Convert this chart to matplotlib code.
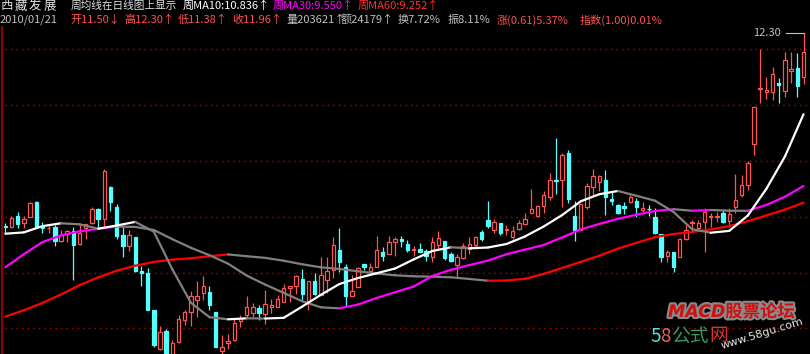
import numpy as np
import matplotlib
matplotlib.use("Agg")
import matplotlib.pyplot as plt
import matplotlib.patheffects as pe

# daily candles (price)
opens = [8.83, 8.81, 9.01, 8.88, 9.00, 9.27, 8.83, 8.79, 8.81, 8.57,
         8.69, 8.74, 8.51, 8.79, 8.88, 9.13, 8.95, 9.53, 9.17, 8.67,
         8.48, 8.63, 8.03, 8.00, 7.33, 6.63, 6.95, 6.52, 6.76, 7.15,
         7.30, 7.51, 7.63, 7.65, 7.29, 6.59, 6.73, 6.79, 7.13, 7.23,
         7.28, 7.36, 7.26, 7.39, 7.39, 7.48, 7.72, 7.76, 7.88, 7.49,
         7.85, 7.60, 7.87, 8.05, 8.40, 8.10, 7.58, 7.74, 8.15, 8.03,
         8.09, 8.36, 8.34, 8.55, 8.60, 8.51, 8.40, 8.42, 8.39, 8.28,
         8.49, 8.57, 8.34, 8.13, 8.26, 8.42, 8.49, 8.72, 8.94, 8.76,
         8.88, 8.77, 8.64, 8.78, 8.87, 9.07, 9.01, 9.19, 9.36, 9.66,
         9.66, 10.15, 9.01, 8.76, 9.17, 9.54, 9.62, 9.65, 9.32, 9.21,
         9.19, 9.27, 9.29, 9.12, 9.14, 9.00, 8.69, 8.30, 8.36, 8.27,
         8.60, 8.89, 8.79, 8.91, 9.00, 9.00, 9.07, 8.93, 9.18, 9.38,
         9.57, 10.30, 11.29, 11.23, 11.24, 11.40, 11.26, 11.62, 11.66, 11.50]
highs = [8.88, 9.01, 9.08, 9.01, 9.27, 9.28, 8.91, 8.87, 8.85, 8.76,
         8.76, 8.81, 8.87, 8.87, 9.18, 9.16, 9.85, 9.55, 9.23, 8.82,
         8.76, 8.64, 8.12, 8.08, 7.33, 7.04, 6.98, 6.79, 7.23, 7.33,
         7.67, 7.85, 7.94, 7.75, 7.29, 6.88, 6.90, 7.18, 7.23, 7.57,
         7.46, 7.42, 7.69, 7.53, 7.60, 7.79, 7.76, 7.96, 8.06, 7.85,
         7.99, 8.27, 8.27, 8.64, 8.80, 8.15, 7.96, 8.10, 8.15, 8.17,
         8.65, 8.45, 8.65, 8.63, 8.65, 8.58, 8.48, 8.52, 8.42, 8.63,
         8.75, 8.57, 8.37, 8.34, 8.53, 8.63, 8.65, 8.76, 9.28, 8.96,
         8.88, 8.86, 8.83, 8.94, 9.06, 9.50, 9.21, 9.46, 9.79, 10.41,
         10.14, 10.20, 9.28, 9.23, 9.60, 9.85, 9.75, 9.84, 9.45, 9.22,
         9.27, 9.39, 9.33, 9.27, 9.21, 9.15, 8.69, 8.40, 8.37, 8.61,
         8.85, 8.94, 8.94, 9.16, 9.07, 9.09, 9.13, 9.15, 9.77, 9.75,
         9.99, 10.96, 12.00, 11.50, 11.69, 11.48, 11.96, 11.96, 11.93, 12.30]
lows = [8.71, 8.79, 8.80, 8.79, 9.00, 8.80, 8.70, 8.70, 8.48, 8.55,
        8.55, 7.87, 8.49, 8.60, 8.87, 8.79, 8.83, 9.11, 8.60, 8.28,
        8.39, 8.01, 7.76, 7.33, 6.67, 6.61, 6.50, 6.48, 6.74, 7.06,
        7.05, 7.21, 7.51, 7.33, 6.67, 6.53, 6.63, 6.77, 7.03, 7.21,
        7.20, 7.15, 7.08, 7.28, 7.39, 7.48, 7.48, 7.62, 7.50, 7.33,
        7.60, 7.60, 7.63, 7.90, 8.01, 7.40, 7.57, 7.74, 8.05, 8.01,
        8.09, 8.21, 8.34, 8.30, 8.45, 8.36, 8.30, 8.37, 8.21, 8.19,
        8.42, 8.22, 8.19, 7.92, 8.24, 8.34, 8.42, 8.57, 8.80, 8.71,
        8.67, 8.67, 8.60, 8.76, 8.85, 9.07, 9.00, 9.06, 9.30, 9.41,
        9.17, 9.24, 8.57, 8.76, 9.13, 9.37, 9.46, 9.03, 9.21, 9.05,
        9.04, 9.24, 8.99, 9.09, 9.01, 8.69, 8.19, 8.19, 8.01, 8.27,
        8.58, 8.73, 8.77, 8.36, 8.82, 8.91, 8.89, 8.82, 9.06, 9.36,
        9.47, 10.11, 11.04, 11.11, 11.10, 11.03, 11.15, 11.39, 11.15, 11.38]
closes = [8.81, 8.97, 8.87, 8.96, 9.25, 8.81, 8.79, 8.80, 8.57, 8.67,
          8.75, 8.49, 8.70, 8.87, 9.13, 8.96, 9.82, 9.27, 8.65, 8.48,
          8.67, 8.03, 8.00, 7.33, 6.70, 6.93, 6.55, 6.74, 7.17, 7.29,
          7.58, 7.58, 7.76, 7.41, 6.67, 6.66, 6.77, 7.09, 7.18, 7.38,
          7.38, 7.27, 7.43, 7.41, 7.53, 7.72, 7.75, 7.93, 7.62, 7.85,
          7.62, 7.96, 8.03, 8.49, 8.18, 7.57, 7.67, 8.08, 8.09, 8.09,
          8.40, 8.30, 8.54, 8.60, 8.57, 8.40, 8.42, 8.37, 8.30, 8.54,
          8.61, 8.26, 8.21, 8.28, 8.48, 8.51, 8.64, 8.60, 8.83, 8.90,
          8.71, 8.78, 8.74, 8.88, 8.95, 9.14, 9.20, 9.39, 9.66, 9.64,
          10.11, 9.31, 8.76, 9.23, 9.55, 9.73, 9.73, 9.36, 9.29, 9.06,
          9.15, 9.35, 9.18, 9.16, 9.13, 8.71, 8.27, 8.37, 8.09, 8.60,
          8.76, 8.91, 8.88, 9.09, 9.02, 9.02, 8.91, 9.05, 9.30, 9.57,
          9.97, 10.96, 11.31, 11.27, 11.56, 11.36, 11.81, 11.65, 11.35, 11.96]

# weekly moving averages, read every 3rd trading day
ma_idx = list(range(0, 130, 3))
ma10 = [8.695, 8.719, 8.831, 8.882, 8.864, 8.785, 8.842, 8.907, 8.733, 8.057,
        7.457, 7.199, 7.161, 7.179, 7.175, 7.188, 7.391, 7.600, 7.794, 7.901,
        7.986, 8.072, 8.235, 8.385, 8.452, 8.434, 8.448, 8.511, 8.647, 8.824,
        9.030, 9.276, 9.403, 9.461, 9.375, 9.287, 9.084, 8.776, 8.713, 8.746,
        9.021, 9.500, 10.079, 10.836]
ma30 = [8.093, 8.328, 8.545, 8.665, 8.738, 8.781, 8.824, 8.817, 8.762, 8.597,
        8.443, 8.310, 8.158, 7.946, 7.783, 7.634, 7.484, 7.376, 7.358, 7.425,
        7.543, 7.647, 7.749, 7.937, 8.048, 8.133, 8.213, 8.328, 8.410, 8.493,
        8.629, 8.772, 8.871, 8.961, 9.036, 9.102, 9.134, 9.107, 9.120, 9.107,
        9.106, 9.210, 9.358, 9.550]
ma60 = [7.208, 7.324, 7.454, 7.606, 7.772, 7.912, 8.032, 8.122, 8.190, 8.230,
        8.255, 8.292, 8.324, 8.292, 8.262, 8.211, 8.147, 8.093, 8.063, 8.022,
        7.982, 7.950, 7.932, 7.925, 7.914, 7.884, 7.853, 7.857, 7.887, 7.975,
        8.081, 8.190, 8.301, 8.428, 8.532, 8.633, 8.690, 8.726, 8.772, 8.832,
        8.918, 9.023, 9.127, 9.252]

UP = '#ff5454'
DOWN = '#54ffff'
GRAY = '#808080'
CJK = ['Noto Sans CJK SC', 'DejaVu Sans']

W, H = 810, 354
fig = plt.figure(figsize=(W / 100, H / 100), dpi=100, facecolor='black')
ax = fig.add_axes([0, 0, 1, 1])
ax.set_facecolor('black')
ax.set_xlim(-0.857, 130.05)
ax.set_ylim(6.5395, 12.8835)
ax.axis('off')

# dotted price grid
for p in range(7, 13):
    ax.axhline(p, xmin=0.006, color='#c00000', lw=1.0, linestyle=(0, (1, 3)), zorder=1)
ax.axvline(-0.614, ymax=0.925, color='#b00000', lw=1.2, zorder=1)

o = np.array(opens)
h = np.array(highs)
l = np.array(lows)
c = np.array(closes)
x = np.arange(len(c))
up = c >= o
ax.vlines(x, l, h, colors=np.where(up, UP, DOWN), lw=0.9, zorder=2)
bot = np.minimum(o, c)
hgt = np.abs(c - o)
ax.bar(x[up], hgt[up], 0.55, bottom=bot[up], facecolor='black', edgecolor=UP, lw=0.9, zorder=3)
ax.bar(x[~up], hgt[~up], 0.55, bottom=bot[~up], facecolor=DOWN, edgecolor=DOWN, lw=0.9, zorder=3)


def draw_ma(vals, color):
    for a, b, va, vb in zip(ma_idx[:-1], ma_idx[1:], vals[:-1], vals[1:]):
        col = color if vb > va else GRAY
        ax.plot([a, b], [va, vb], color=col, lw=1.6, solid_capstyle='round', zorder=4)


draw_ma(ma60, '#ff0000')
draw_ma(ma30, '#ff00ff')
draw_ma(ma10, '#ffffff')

# highest price marker
imax = int(np.argmax(h))
ax.plot([imax - 2.8, imax], [h[imax], h[imax]], color='#c0c0c0', lw=0.8, zorder=5)
ax.text(imax - 3.6, h[imax], '%.2f' % h[imax], color='#c0c0c0', fontsize=8,
        ha='right', va='center', family=CJK)


def put(px, py, s, color, size=8, **kw):
    fig.text(px / W, 1 - py / H, s, color=color, fontsize=size, ha='left',
             va='center', family=CJK, **kw)


# header line 1
for k, ch in enumerate('西藏发展'):
    put(14.5 * k, 6, ch, '#e0e0e0', size=9)
put(71, 6, '周均线在日线图上显示', '#e0e0e0', size=7.7)
put(183, 6, '周MA10:%.3f↑' % ma10[-1], '#ffffff')
put(273, 6, '周MA30:%.3f↑' % ma30[-1], '#ff00ff')
put(358, 6, '周MA60:%.3f↑' % ma60[-1], '#ff3030')

# header line 2
RED = '#ff5050'
LG = '#c0c0c0'
put(0, 20, '2010/01/21', LG)
put(70, 20, '开%.2f↓' % opens[-1], RED)
put(124, 20, '高%.2f↑' % highs[-1], RED)
put(178, 20, '低%.2f↑' % lows[-1], RED)
put(232, 20, '收%.2f↑' % closes[-1], RED)
put(286, 20, '量203621↑', LG)
put(341, 20, '额24179↑', LG)
put(398, 20, '换7.72%', LG)
put(448, 20, '振8.11%', LG)
put(497, 20, '涨(0.61)5.37%', RED)
put(580, 20, '指数(1.00)0.01%', RED)

# watermark
fig.text(668 / W, 1 - 312 / H, 'MACD股票论坛', color='#d01010', fontsize=12.5,
         fontweight='bold', style='italic', ha='left', va='center',
         family=['DejaVu Sans', 'Noto Sans CJK SC'],
         path_effects=[pe.withStroke(linewidth=3, foreground='#8a8a8a')])
put(650, 336, '5', '#50e0e0', size=13.5)
put(660.5, 336, '8', '#f06060', size=13.5)
put(671, 336, '公式', '#3a9a5a', size=13.5)
put(709.5, 336, '网', '#e03030', size=13.5)
fig.text(762 / W, 1 - 334 / H, 'www.58gu.com', color='#e8e8e8', fontsize=8,
         rotation=17, ha='center', va='center', rotation_mode='anchor')

fig.savefig('out.png', dpi=100, facecolor='black')
